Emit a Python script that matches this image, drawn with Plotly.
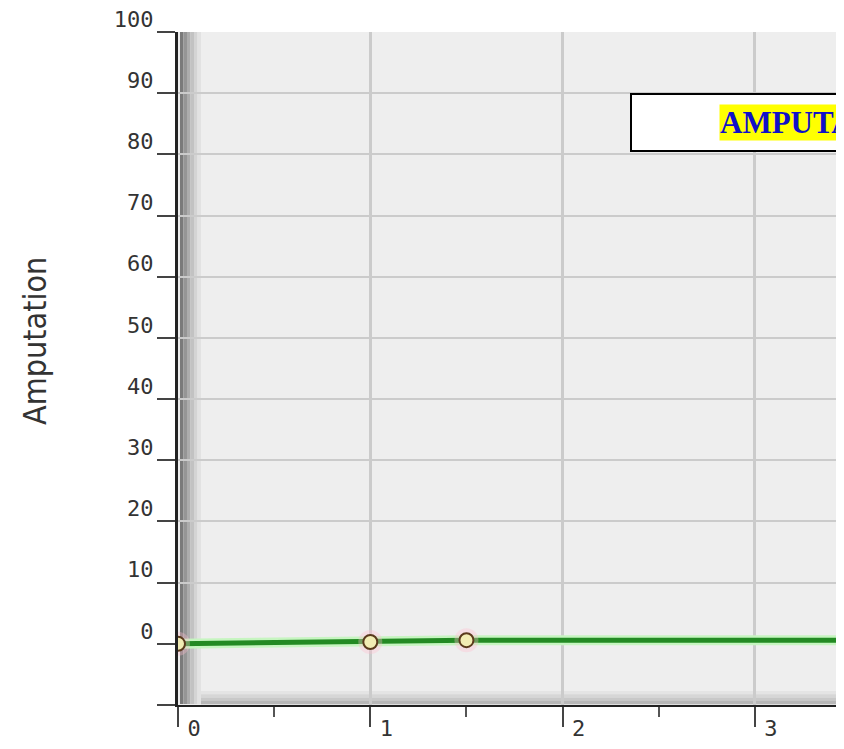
import plotly.graph_objects as go

# ---- data ----
x_values = [0, 1, 1.5, 4.0]
amputation = [0.0, 0.3, 0.6, 0.6]
marker_x = [0, 1, 1.5]
marker_y = [0.0, 0.3, 0.6]
y_tick_vals = [-10, 0, 10, 20, 30, 40, 50, 60, 70, 80, 90, 100]
y_tick_text = ["", "0", "10", "20", "30", "40", "50", "60", "70", "80", "90", "100"]
x_tick_vals = [0, 1, 2, 3]
x_tick_text = ["0", "1", "2", "3"]
x_minor_vals = [0.5, 1.5, 2.5]
y_title = "Amputation"
legend_label = "AMPUTATION"

# page body has an 8px margin; compensate
OFF = 8
W, H = 836, 741
L, R, T, B = 170, 0, 24, H - (705 - OFF)
PW, PH = W - L - R, H - T - B


def px_x(p):
    # p is a viewport pixel
    return (p - OFF - L) / PW


def px_y(p):
    return (H - B - (p - OFF)) / PH


fig = go.Figure()

# green halo + line
fig.add_trace(go.Scatter(x=x_values, y=amputation, mode="lines",
                         line=dict(color="#c6f5c0", width=10), hoverinfo="skip",
                         showlegend=False))
fig.add_trace(go.Scatter(x=x_values, y=amputation, mode="lines",
                         line=dict(color="#238a23", width=5), showlegend=False))
# marker glow + markers
fig.add_trace(go.Scatter(x=marker_x, y=marker_y, mode="markers",
                         marker=dict(size=24, color="rgba(255,190,205,0.35)",
                                     line=dict(width=0)),
                         hoverinfo="skip", showlegend=False))
fig.add_trace(go.Scatter(x=marker_x, y=marker_y, mode="markers",
                         marker=dict(size=14, color="#f2edb4",
                                     line=dict(color="#5a3a1c", width=2)),
                         showlegend=False))

shapes = []
# left 3D wall gradient
wall_cols = ["#7a7a7a", "#959595", "#acacac", "#c2c2c2", "#d4d4d4", "#e2e2e2"]
x0 = 180
for i, c in enumerate(wall_cols):
    shapes.append(dict(type="rect", xref="paper", yref="paper",
                       x0=px_x(x0 + i * 3.5), x1=px_x(x0 + (i + 1) * 3.5),
                       y0=px_y(704), y1=1, fillcolor=c, line=dict(width=0),
                       layer="below"))
# bottom wall gradient
floor_cols = ["#e4e4e4", "#d6d6d6", "#c8c8c8", "#b8b8b8"]
y0 = 691
for i, c in enumerate(floor_cols):
    shapes.append(dict(type="rect", xref="paper", yref="paper",
                       x0=px_x(180 + 6 * 3.5), x1=1.2,
                       y0=px_y(y0 + (i + 1) * 3.3), y1=px_y(y0 + i * 3.3),
                       fillcolor=c, line=dict(width=0), layer="below"))
# legend box
shapes.append(dict(type="rect", xref="paper", yref="paper",
                   x0=px_x(631), x1=px_x(1010), y0=px_y(151), y1=px_y(94),
                   fillcolor="white", line=dict(color="black", width=2),
                   layer="above"))

tick_font = dict(family="DejaVu Sans Mono", size=22, color="#333333")

fig.update_layout(
    width=W, height=H,
    margin=dict(l=L, r=R, t=T, b=B, pad=0, autoexpand=False),
    paper_bgcolor="white",
    plot_bgcolor="#eeeeee",
    shapes=shapes,
    xaxis=dict(range=[0, PW / 192.3], tickvals=x_tick_vals, ticktext=x_tick_text,
               automargin=False, ticklabeloverflow="allow",
               ticks="outside", ticklen=20, tickwidth=2, tickcolor="#444444",
               ticklabelshift=16, ticklabelstandoff=-17,
               showline=True, linecolor="#222222", linewidth=2,
               showgrid=True, gridcolor="#cbcbcb", gridwidth=3,
               zeroline=False, tickfont=tick_font,
               minor=dict(tickvals=x_minor_vals, ticks="outside", ticklen=10,
                          tickwidth=2, tickcolor="#555555", showgrid=False)),
    yaxis=dict(range=[-10, 100], tickvals=y_tick_vals, ticktext=y_tick_text,
               automargin=False, ticklabeloverflow="allow",
               ticks="outside", ticklen=18, tickwidth=2, tickcolor="#444444",
               ticklabelshift=-13, ticklabelstandoff=-1,
               showline=True, linecolor="#222222", linewidth=3,
               showgrid=True, gridcolor="#cbcbcb", gridwidth=2,
               zeroline=False, tickfont=tick_font),
    annotations=[
        dict(text=y_title, xref="paper", yref="paper", x=px_x(35), y=px_y(341),
             xanchor="center", yanchor="middle", textangle=-90, showarrow=False,
             font=dict(family="Liberation Sans Narrow, DejaVu Sans Condensed, DejaVu Sans",
                       size=32, color="#333333")),
        dict(text="<b>" + legend_label + "</b>", xref="paper", yref="paper",
             x=px_x(719), y=px_y(122.5), xanchor="left", yanchor="middle",
             showarrow=False, bgcolor="yellow", borderpad=0,
             font=dict(family="Liberation Serif", size=31, color="#1010c8")),
    ],
)

fig.write_html("out.html")
